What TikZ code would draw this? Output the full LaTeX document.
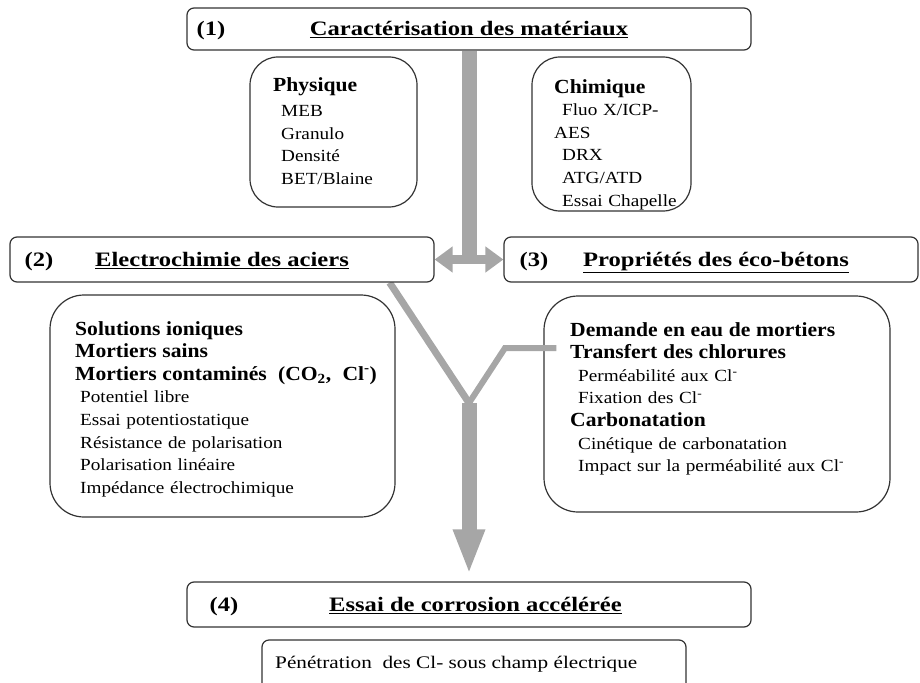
\documentclass[tikz,border=0pt]{standalone}
\usepackage{fontspec}
\setmainfont{Liberation Serif}
\newfontfamily\titlefont[FakeStretch=1.2]{Liberation Serif}
\newfontfamily\itemfont[FakeStretch=1.13]{Liberation Serif}
\newfontfamily\leadfont[FakeStretch=1.08]{Liberation Serif}
\usepackage{tikz}
\usetikzlibrary{arrows.meta, positioning, calc, backgrounds}
\definecolor{flow-gray}{HTML}{A6A6A6}
\definecolor{frame-gray}{HTML}{333333}
\newcommand{\lead}[1]{{\leadfont\bfseries\fontsize{20}{22.6}\selectfont #1}}
\newcommand{\indentitem}{\hspace*{8pt}}
\newcommand{\chl}{Cl\textsuperscript{-}}

\tikzset{
  headbox/.style={draw=frame-gray, fill=white, line width=1.2pt, rounded corners=7pt,
    minimum height=45pt, inner sep=0pt, text height=13.5pt, text depth=0pt,
    font=\titlefont\bfseries\fontsize{20.5}{24}\selectfont},
  headnum/.style={anchor=base west, inner sep=0pt,
    font=\titlefont\bfseries\fontsize{20.5}{24}\selectfont},
  listbox/.style={draw=frame-gray, fill=white, line width=1.2pt, rounded corners=28pt, inner sep=0pt},
  listtext/.style={anchor=north west, inner sep=0pt, text width=#1, align=left,
    font=\itemfont\fontsize{17}{22.6}\selectfont},
  listtext/.default=420pt,
  flow/.style={draw=flow-gray, line width=#1},
  flow/.default=7pt,
}

\begin{document}
\begin{tikzpicture}[x=1pt, y=-1pt]
  \useasboundingbox (0,0) rectangle (920,682);

  % section heads
  \node[headbox, minimum width=564pt, minimum height=42pt] (mat) at (469,29)
    {\underline{Caractérisation des matériaux}};
  \node[headbox, minimum width=424pt] (acier) at (222,259.5)
    {\underline{Electrochimie des aciers}};
  \node[headbox, minimum width=414pt] (beton) at (711,259.5)
    {\hspace*{10pt}\underline{Propriétés des éco-bétons}};
  \node[headbox, minimum width=564pt] (corr) at (469,604.5)
    {\hspace*{13pt}\underline{Essai de corrosion accélérée}};
  \node[headnum] (num1) at ($(mat.west)+(10,6.75)$) {(1)};
  \node[headnum] (num2) at ($(acier.west)+(15,6.75)$) {(2)};
  \node[headnum] (num3) at ($(beton.west)+(16,6.75)$) {(3)};
  \node[headnum] (num4) at ($(corr.west)+(23,6.75)$) {(4)};

  % characterisation lists
  \node[listbox, minimum width=167pt, minimum height=150pt] (phys) at (333.5,132) {};
  \node[listtext] (physlist) at (273,77) {\lead{Physique}\\[3pt]
    \indentitem MEB\\ \indentitem Granulo\\ \indentitem Densité\\ \indentitem BET/Blaine};
  \node[listbox, minimum width=159pt, minimum height=154pt] (chim) at (611.5,134) {};
  \node[listtext] (chimlist) at (554,79) {\lead{Chimique}\\
    \indentitem Fluo X/ICP-\\ AES\\ \indentitem DRX\\ \indentitem ATG/ATD\\ \indentitem Essai Chapelle};

  % steel and concrete lists
  \node[listbox, rounded corners=34pt, minimum width=345pt, minimum height=222pt] (acierlist) at (222.5,406) {};
  \node[listtext] (aciertxt) at (75,321) {\lead{Solutions ioniques}\\
    \lead{Mortiers sains}\\
    \lead{Mortiers contaminés~ (CO\textsubscript{2},~ Cl\textsuperscript{-})}\\
    \hspace*{5pt}Potentiel libre\\
    \hspace*{5pt}Essai potentiostatique\\
    \hspace*{5pt}Résistance de polarisation\\
    \hspace*{5pt}Polarisation linéaire\\
    \hspace*{5pt}Impédance électrochimique};
  \node[listbox, rounded corners=34pt, minimum width=346pt, minimum height=216pt] (betonlist) at (717,404) {};
  \node[listtext] (betontxt) at (570,322) {\lead{Demande en eau de mortiers}\\
    \lead{Transfert des chlorures}\\
    \indentitem Perméabilité aux \chl\\
    \indentitem Fixation des \chl\\
    \lead{Carbonatation}\\
    \indentitem Cinétique de carbonatation\\
    \indentitem Impact sur la perméabilité aux \chl};

  % accelerated test
  \node[headbox, minimum width=424pt, minimum height=60pt] (field) at (474,670) {};
  \node[anchor=base west, inner sep=0pt, font=\titlefont\fontsize{17.7}{22}\selectfont] (fieldtxt)
    at (275,668) {Pénétration~ des Cl- sous champ électrique};

  % grey flow arrows
  \begin{scope}[on background layer]
    \draw[flow=15pt] (mat.south) -- (mat.south |- acier.east);
    \draw[flow=9pt, {Triangle[length=18pt,width=25pt]}-{Triangle[length=18pt,width=25pt]}]
      (acier.east) -- (beton.west);
    \coordinate (fork) at (469,403);
    \draw[flow] ($(acier.south east)+(-45,0)$) -- (fork);
    \draw[flow=15pt, -{Triangle[length=45pt,width=29pt]}] (fork) -- ($(corr.north)+(0,-7)$);
  \end{scope}
  \draw[flow=6pt] (fork) -- ++(36,-55) -- ($(betonlist.west)+(13,-56)$);
\end{tikzpicture}
\end{document}
